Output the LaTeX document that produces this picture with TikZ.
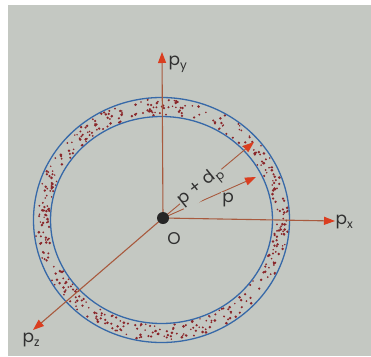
\documentclass[tikz,border=0pt]{standalone}
\usepackage{fontspec}
\setmainfont{Poppins}
\usetikzlibrary{arrows.meta,calc}
\definecolor{bg}{RGB}{196,200,194}
\definecolor{axis}{RGB}{168,90,62}
\definecolor{tipred}{RGB}{218,62,32}
\definecolor{ring}{RGB}{55,105,168}
\definecolor{dot}{RGB}{172,48,52}
\definecolor{ink}{RGB}{48,48,48}
\newcommand\lowidx[1]{\raisebox{-0.45ex}{\fontsize{12}{12}\selectfont #1}}
\tikzset{
  axisline/.style = {draw = axis, line width = 1.1pt, -{Triangle[length = 11pt, width = 8pt, color = tipred]}},
  lab/.style = {text = ink, font = \fontsize{17}{20}\selectfont, inner sep = 0.5pt},
  gap/.style = {fill = bg, inner sep = 1pt}
}
\begin{document}
\begin{tikzpicture}[x = 1pt, y = -1pt]
% paper
\path[fill = white](0,0)rectangle(371,356);
\path[fill = bg](8,5)rectangle(371,356);
\useasboundingbox(0,0)rectangle(371,356);
% points
\coordinate(O)at(163,218);
\coordinate(C)at(161.5,220);
\coordinate(py)at(162,52);
\coordinate(px)at(335,221);
\coordinate(pz)at(33,330);
\coordinate(p)at(256,177);
\coordinate(pdp)at(254,142);
% momentum shell
\pgfmathsetseed{11}
\foreach \i in {1,...,460}{
  \pgfmathsetmacro\a{360*rnd}
  \pgfmathsetmacro\f{0.08+0.84*rnd}
  \pgfmathsetmacro\s{0.8+0.7*rnd}
  \path[fill = dot!80!black]($(C)+({(111+17*\f)*cos(\a)},{(103.5+19*\f)*sin(\a)})$)circle(\s);
}
\path[draw = ring, line width = 1.3pt](C)ellipse[x radius = 128, y radius = 122.5];
\path[draw = ring, line width = 1.3pt](C)ellipse[x radius = 111, y radius = 103.5];
% axes
\path[axisline](O)to(py);
\path[axisline](O)to(px);
\path[axisline](O)to(pz);
% radius vectors
\path[axisline, line width = 0.9pt](O)to(p);
\path[axisline, line width = 0.9pt](O)to(pdp);
\node[lab, gap](plab)at(228,200){p};
\node[lab, gap, rotate = 39](pdplab)at(201,187){p + d\lowidx{p}};
% origin
\path[fill = black!85](O)circle(6);
\node[lab](olab)at(174,239){O};
% labels
\node[lab, anchor = west](pylab)at(168,64){p\lowidx{y}};
\node[lab, anchor = west](pxlab)at(335,222){p\lowidx{x}};
\node[lab](pzlab)at(31,340){p\lowidx{z}};
\end{tikzpicture}
\end{document}
